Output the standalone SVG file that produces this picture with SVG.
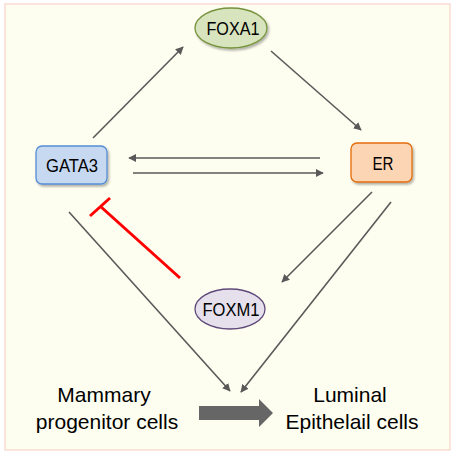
<svg xmlns="http://www.w3.org/2000/svg" width="454" height="454" viewBox="0 0 454 454">
<defs>
<marker id="ah" viewBox="0 0 10 10" refX="9" refY="5" markerWidth="5" markerHeight="5" orient="auto" markerUnits="strokeWidth">
<path d="M0,0 L10,5 L0,10 z" fill="#595959"/>
</marker>
<filter id="sh" x="-20%" y="-20%" width="150%" height="160%">
<feDropShadow dx="1.5" dy="2" stdDeviation="1.2" flood-color="#000" flood-opacity="0.3"/>
</filter>
<style>
.c{stroke:#595959;stroke-width:1.6;fill:none;marker-end:url(#ah)}
.t{font-family:"Liberation Sans",Arial,sans-serif;fill:#000;text-anchor:middle}
.n{font-size:18px}
.b{font-size:21px}
</style>
</defs>
<rect x="5" y="4" width="445" height="446" fill="#FEFEF0" stroke="#F9DCD2" stroke-width="1.5"/>
<g id="connectors">
<line class="c" x1="93" y1="138" x2="183" y2="47"/>
<line class="c" x1="271" y1="51" x2="361" y2="130"/>
<line class="c" x1="320" y1="158" x2="129" y2="158"/>
<line class="c" x1="133" y1="173" x2="323" y2="173"/>
<line class="c" x1="372" y1="192" x2="282" y2="282"/>
<line class="c" x1="391" y1="202" x2="241" y2="392"/>
<line class="c" x1="69" y1="212" x2="230" y2="391"/>
<g id="inhibit" stroke="#FF0000" stroke-width="3" fill="none">
<line x1="180" y1="278" x2="100" y2="206"/>
<line x1="90" y1="216" x2="110" y2="198"/>
</g>
<path id="bigarrow" d="M199,406 L259,406 L259,399 L273,413 L259,427 L259,420 L199,420 z" fill="#666666"/>
</g>
<g id="FOXA1">
<ellipse cx="231" cy="28" rx="36" ry="20" fill="#D7E4BD" stroke="#77933C" stroke-width="1.3" filter="url(#sh)"/>
<text class="t n" x="233" y="35" textLength="53" lengthAdjust="spacingAndGlyphs">FOXA1</text>
</g>
<g id="GATA3">
<rect x="36" y="146" width="71" height="38" rx="6" fill="#C6D9F1" stroke="#558ED5" stroke-width="1.3" filter="url(#sh)"/>
<text class="t n" x="72" y="172" textLength="52" lengthAdjust="spacingAndGlyphs">GATA3</text>
</g>
<g id="ER">
<rect x="351" y="143" width="61" height="39" rx="6" fill="#FCD5B5" stroke="#E46C0A" stroke-width="1.3" filter="url(#sh)"/>
<text class="t n" x="383" y="170" textLength="21" lengthAdjust="spacingAndGlyphs">ER</text>
</g>
<g id="FOXM1">
<ellipse cx="230" cy="309" rx="35" ry="20" fill="#E5E0EC" stroke="#5F497A" stroke-width="1.3"/>
<text class="t n" x="231" y="316" textLength="57" lengthAdjust="spacingAndGlyphs">FOXM1</text>
</g>
<g id="labels">
<text class="t b" x="104" y="402">Mammary</text>
<text class="t b" x="107" y="429">progenitor cells</text>
<text class="t b" x="350" y="402">Luminal</text>
<text class="t b" x="352" y="429">Epithelail cells</text>
</g>
</svg>
